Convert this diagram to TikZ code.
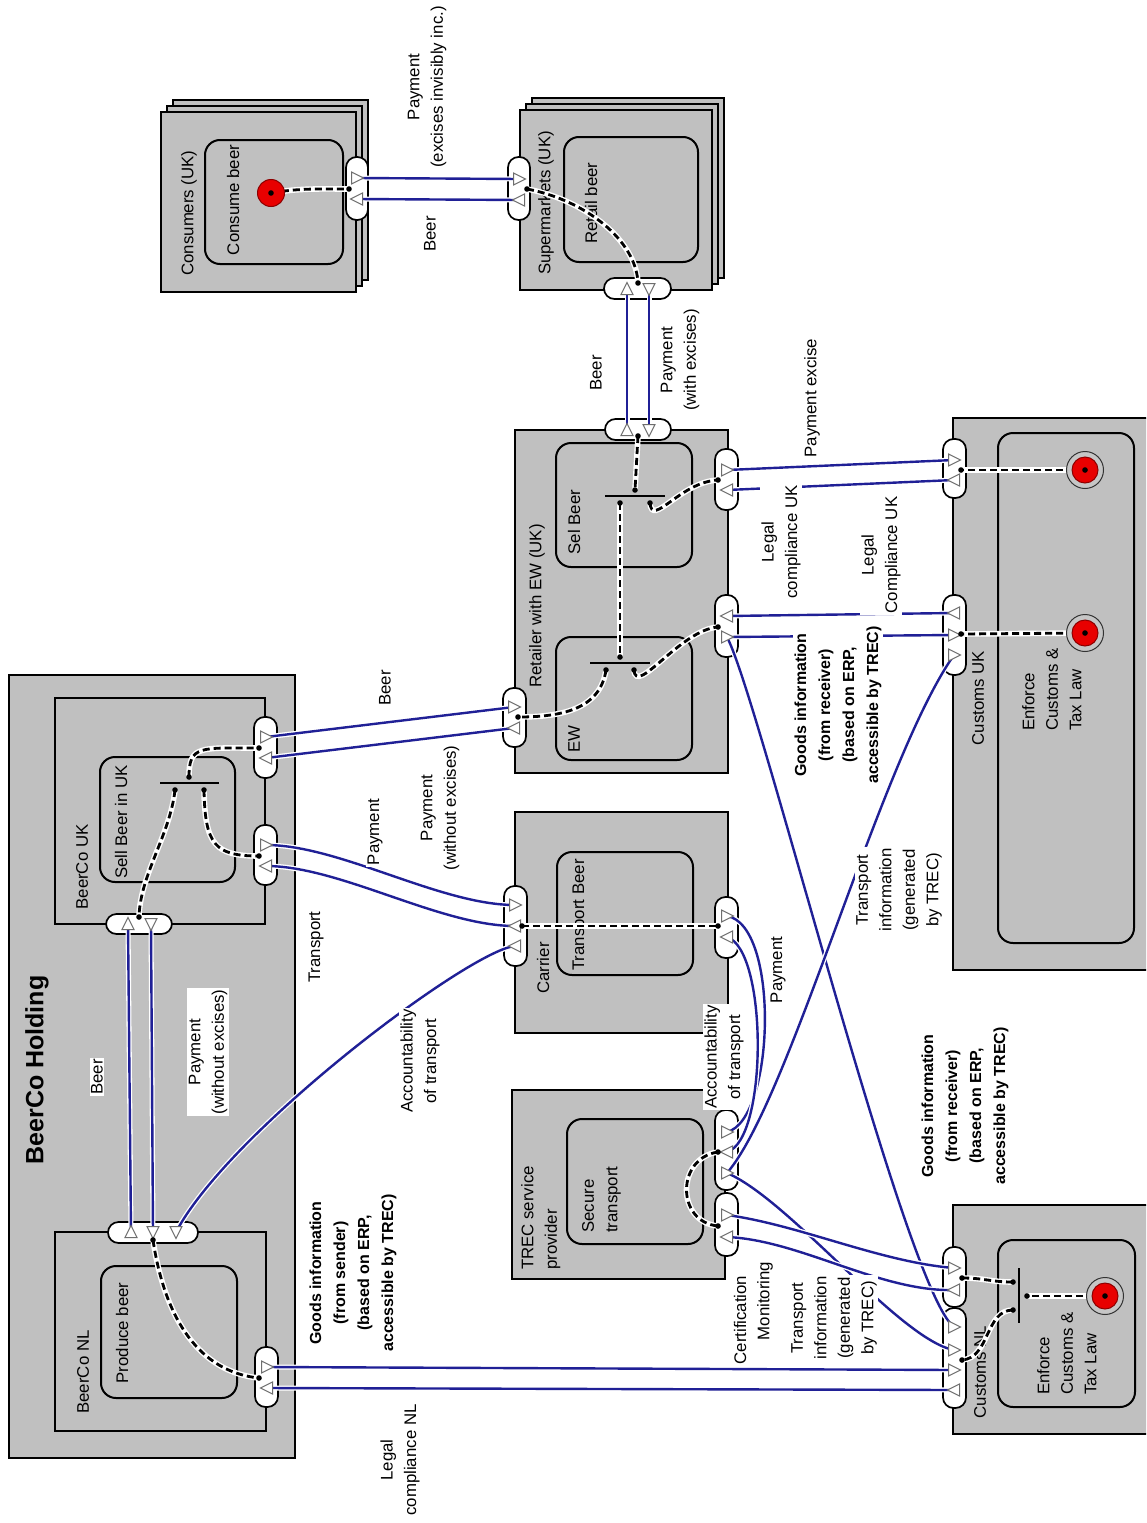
\documentclass[tikz,border=0pt]{standalone}
\usepackage{fontspec}
\setmainfont{Liberation Sans}
\definecolor{agray}{RGB}{192,192,192}
\definecolor{vblue}{RGB}{32,32,150}
\definecolor{pgray}{RGB}{110,110,110}
\definecolor{sred}{RGB}{232,0,0}
\newcommand\lfont{\fontsize{16.8}{23.5}\selectfont}
\newcommand\bfnt{\fontsize{16}{24}\selectfont\bfseries}
\newcommand\hfont{\fontsize{25}{30}\selectfont\bfseries}
\tikzset{
  actorbox/.style={draw=black, line width=2pt, fill=agray},
  actbox/.style={draw=black, line width=2pt, rounded corners=15pt},
  stadium/.style={draw=black, line width=1.7pt, fill=white, rounded corners=10.5pt},
  vt/.style={draw=vblue, line width=2.4pt, preaction={draw=white, line width=5pt}},
  dep/.style={draw=black, line width=2.8pt, dash pattern=on 7pt off 4pt, preaction={draw=white, line width=5.6pt, solid}},
  port/.style={draw=pgray, line width=1pt, fill=white},
  lab/.style={rotate=90, font=\lfont, inner sep=1.5pt, align=center},
  wlab/.style={lab, fill=white},
  blab/.style={lab, font=\bfnt, fill=white},
  gatebar/.style={draw=black, line width=1.4pt}
}
\newcommand\portR[1]{\draw[port,shift={(#1)}] (-5.5,-6)--(6.5,0)--(-5.5,6)--cycle;}
\newcommand\portL[1]{\draw[port,shift={(#1)}] (5.5,-6)--(-6.5,0)--(5.5,6)--cycle;}
\newcommand\portU[1]{\draw[port,shift={(#1)}] (-6,5.5)--(0,-6.5)--(6,5.5)--cycle;}
\newcommand\portD[1]{\draw[port,shift={(#1)}] (-6,-5.5)--(0,6.5)--(6,-5.5)--cycle;}
\newcommand\jdot[1]{\fill (#1) circle (2.8pt);}
\newcommand\stimA[1]{\filldraw[fill=sred, draw=red!55!black, line width=1pt] (#1) circle (13.5pt); \fill (#1) circle (2.8pt);}
\newcommand\stimB[1]{\filldraw[fill=gray!45, draw=gray!40!black, line width=1pt] (#1) circle (18.5pt); \filldraw[fill=sred, draw=red!55!black, line width=1pt] (#1) circle (13pt); \fill (#1) circle (2.8pt);}
\newcommand\stackbox[4]{\draw[actorbox] (#1+12,#2-12) rectangle (#3+12,#4-12); \draw[actorbox] (#1+6,#2-6) rectangle (#3+6,#4-6); \draw[actorbox] (#1,#2) rectangle (#3,#4);}
\newcommand\stad[4]{\draw[stadium] (#1,#2) rectangle (#3,#4);}
\begin{document}
\begin{tikzpicture}[x=1pt,y=-1pt]
\useasboundingbox (0,0) rectangle (1146,1523);
\clip (0,0) rectangle (1146,1523);
% ---------- actors ----------
\draw[actorbox] (9,675) rectangle (295,1458);
\draw[actorbox] (55,698) rectangle (265,924);
\draw[actorbox] (55,1232) rectangle (266,1431);
\stackbox{161}{112}{356}{292}
\stackbox{520}{110}{712}{290}
\draw[actorbox] (515,430) rectangle (728,773);
\draw[actorbox] (515,812) rectangle (728,1033);
\draw[actorbox] (512,1090) rectangle (725,1279);
\draw[actorbox] (953,418) rectangle (1160,970);
\draw[actorbox] (953,1205) rectangle (1160,1434);
% ---------- activities ----------
\draw[actbox] (100,757) rectangle (235,882);
\draw[actbox] (101,1266) rectangle (237,1398);
\draw[actbox] (205,140) rectangle (343,264);
\draw[actbox] (564,137) rectangle (698,262);
\draw[actbox] (556,443) rectangle (692,567);
\draw[actbox] (556,637) rectangle (692,760);
\draw[actbox] (557,852) rectangle (693,975);
\draw[actbox] (567,1119) rectangle (703,1244);
\draw[actbox] (998,433) rectangle (1134,943);
\draw[actbox] (998,1240) rectangle (1135,1407);
% ---------- actor / activity labels ----------
\node[lab] (tCons) at (189,213) {Consumers (UK)};
\node[lab] (tConsA) at (233,200) {Consume beer};
\node[lab] (tSup) at (546,203) {Supermarkets (UK)};
\node[lab] (tSupA) at (591,203) {Retail beer};
\node[lab] (tRet) at (537,606) {Retailer with EW (UK)};
\node[lab] (tSel) at (574,522) {Sel Beer};
\node[lab] (tEW) at (574,739) {EW};
\node[lab] (tCar) at (543,968) {Carrier};
\node[lab] (tCarA) at (580,915) {Transport Beer};
\node[lab, anchor=north west, align=left] (tTrec) at (519.5,1271.5) {TREC service\\provider};
\node[lab, anchor=north west, align=left] (tTrecA) at (580.5,1234.5) {Secure\\transport};
\node[lab] (tUK) at (82,867) {BeerCo UK};
\node[lab] (tUKA) at (121,822) {Sell Beer in UK};
\node[lab, font=\hfont] (tHold) at (37,1070) {BeerCo Holding};
\node[lab] (tNL) at (83,1372) {BeerCo NL};
\node[lab] (tNLA) at (122,1333) {Produce beer};
\node[lab] (tCUK) at (978,698) {Customs UK};
\node[lab, anchor=north west, align=left] (tCUKA) at (1020.5,732.5) {Enforce\\Customs \&\\Tax Law};
\node[lab] (tCNL) at (980,1372) {Customs NL};
\node[lab, anchor=north west, align=left] (tCNLA) at (1035.5,1396.5) {Enforce\\Customs \&\\Tax Law};
% ---------- value interfaces ----------
\stad{346}{157}{368}{220}
\stad{508}{157}{530}{220}
\stad{604}{278}{671}{299}
\stad{605}{419}{671}{440}
\stad{715}{449}{738}{510}
\stad{715}{595}{738}{657}
\stad{503}{688}{526}{747}
\stad{254}{717}{277}{778}
\stad{254}{825}{277}{885}
\stad{106}{914}{172}{934}
\stad{108}{1222}{198}{1243}
\stad{255}{1347}{278}{1407}
\stad{504}{886}{527}{966}
\stad{715}{897}{738}{958}
\stad{715}{1110}{738}{1190}
\stad{715}{1193}{738}{1256}
\stad{943}{439}{966}{498}
\stad{943}{595}{966}{675}
\stad{943}{1247}{966}{1307}
\stad{943}{1308}{966}{1408}
% ---------- port coordinates ----------
\coordinate (cSo) at (357,178); \coordinate (cSi) at (357,199); \coordinate (cSd) at (349,189);
\coordinate (stC) at (271,193);
\coordinate (sLi) at (519,179); \coordinate (sLo) at (519,200); \coordinate (sLd) at (527,189);
\coordinate (sBa) at (627,289); \coordinate (sBb) at (649,289); \coordinate (sBd) at (638,283);
\coordinate (rTa) at (627,430); \coordinate (rTb) at (649,430); \coordinate (rTd) at (638,436);
\coordinate (rR1o) at (727,470); \coordinate (rR1i) at (727,490); \coordinate (rR1d) at (718,480);
\coordinate (rR2i) at (727,616); \coordinate (rR2o) at (727,637); \coordinate (rR2d) at (718,627);
\coordinate (rLi) at (514,707); \coordinate (rLo) at (514,728); \coordinate (rLd) at (518,717);
\coordinate (selT) at (635,490); \coordinate (selA) at (620,503); \coordinate (selB) at (650,503);
\coordinate (ewT) at (620,657); \coordinate (ewA) at (606,670); \coordinate (ewB) at (634,670);
\coordinate (u1o) at (266,737); \coordinate (u1i) at (266,758); \coordinate (u1d) at (259,748);
\coordinate (u2o) at (266,845); \coordinate (u2i) at (266,866); \coordinate (u2d) at (259,856);
\coordinate (ubA) at (128,924); \coordinate (ubB) at (151,924); \coordinate (ubd) at (139,917);
\coordinate (ukT) at (189,777); \coordinate (ukA) at (175,790); \coordinate (ukB) at (204,790);
\coordinate (hA) at (131,1232); \coordinate (hB) at (153,1232); \coordinate (hC) at (176,1232); \coordinate (hd) at (153,1240);
\coordinate (nRo) at (267,1367); \coordinate (nRi) at (267,1388); \coordinate (nRd) at (259,1378);
\coordinate (cL1) at (515,905); \coordinate (cL2) at (515,926); \coordinate (cL3) at (515,946); \coordinate (cLd) at (522,926);
\coordinate (cR1) at (727,916); \coordinate (cR2) at (727,937); \coordinate (cRd) at (718,926);
\coordinate (t1a) at (727,1132); \coordinate (t1b) at (727,1152); \coordinate (t1c) at (727,1173); \coordinate (t1d) at (718,1152);
\coordinate (t2a) at (727,1215); \coordinate (t2b) at (727,1237); \coordinate (t2d) at (718,1226);
\coordinate (k1a) at (954,460); \coordinate (k1b) at (954,480); \coordinate (k1d) at (961,470);
\coordinate (k2a) at (954,613); \coordinate (k2b) at (954,635); \coordinate (k2c) at (954,655); \coordinate (k2d) at (961,634);
\coordinate (stU1) at (1085,470); \coordinate (stU2) at (1085,633);
\coordinate (n1a) at (954,1268); \coordinate (n1b) at (954,1290); \coordinate (n1d) at (962,1278);
\coordinate (n2a) at (954,1327); \coordinate (n2b) at (954,1350); \coordinate (n2c) at (954,1370); \coordinate (n2e) at (954,1390); \coordinate (n2d) at (962,1360);
\coordinate (stN) at (1105,1296); \coordinate (nlR) at (1027,1296); \coordinate (nlA) at (1013,1282); \coordinate (nlB) at (1013,1310);
% ---------- value transfers ----------
\draw[vt] (cSo) -- (sLi);
\draw[vt] (sLo) -- (cSi);
\draw[vt] (sBa) -- (rTa);
\draw[vt] (sBb) -- (rTb);
\draw[vt] (rR1o) -- (k1a);
\draw[vt] (k1b) -- (rR1i);
\draw[vt] (k2a) -- (rR2i);
\draw[vt] (rR2o) -- (k2b);
\draw[vt] (rR2o) .. controls (760,700) and (905,1290) .. (n2a);
\draw[vt] (t1c) .. controls (790,1100) and (880,760) .. (k2c);
\draw[vt] (t1c) .. controls (790,1200) and (900,1340) .. (n2b);
\draw[vt] (u1o) -- (rLi);
\draw[vt] (rLo) -- (u1i);
\draw[vt] (u2o) .. controls (340,845) and (440,905) .. (cL1);
\draw[vt] (cL2) .. controls (440,926) and (340,866) .. (u2i);
\draw[vt] (cL3) .. controls (470,950) and (230,1130) .. (hC);
\draw[vt] (hA) -- (ubA);
\draw[vt] (ubB) -- (hB);
\draw[vt] (nRo) -- (n2c);
\draw[vt] (n2e) -- (nRi);
\draw[vt] (cR1) .. controls (780,925) and (775,1120) .. (t1a);
\draw[vt] (t1b) .. controls (768,1140) and (768,950) .. (cR2);
\draw[vt] (t2a) .. controls (800,1225) and (880,1262) .. (n1a);
\draw[vt] (n1b) .. controls (880,1292) and (800,1240) .. (t2b);
% ---------- ports ----------
\portR{cSo} \portL{cSi}
\portR{sLi} \portL{sLo}
\portU{sBa} \portD{sBb}
\portU{rTa} \portD{rTb}
\portR{rR1o} \portL{rR1i}
\portL{rR2i} \portR{rR2o}
\portR{rLi} \portL{rLo}
\portR{u1o} \portL{u1i}
\portR{u2o} \portL{u2i}
\portU{ubA} \portD{ubB}
\portU{hA} \portD{hB} \portD{hC}
\portR{nRo} \portL{nRi}
\portR{cL1} \portL{cL2} \portL{cL3}
\portR{cR1} \portL{cR2}
\portR{t1a} \portL{t1b} \portR{t1c}
\portR{t2a} \portL{t2b}
\portR{k1a} \portL{k1b}
\portL{k2a} \portR{k2b} \portR{k2c}
\portR{n1a} \portL{n1b}
\portR{n2a} \portR{n2b} \portR{n2c} \portL{n2e}
% ---------- AND gates ----------
\draw[gatebar] (160,783) -- (219,783);
\draw[gatebar] (605,496) -- (665,496);
\draw[gatebar] (590,663) -- (650,663);
\draw[gatebar] (1019,1268) -- (1019,1323);
% ---------- dependency paths ----------
\draw[dep] (stC) .. controls (300,188) and (320,189) .. (cSd);
\draw[dep] (sLd) .. controls (585,200) and (636,240) .. (sBd);
\draw[dep] (rTd) -- (selT);
\draw[dep] (selA) -- (ewT);
\draw[dep] (selB) .. controls (652,528) and (680,482) .. (rR1d);
\draw[dep] (ewA) .. controls (600,710) and (560,717) .. (rLd);
\draw[dep] (ewB) .. controls (636,697) and (680,630) .. (rR2d);
\draw[dep] (ukT) .. controls (189,745) and (200,748) .. (u1d);
\draw[dep] (ukA) .. controls (170,835) and (140,875) .. (ubd);
\draw[dep] (ukB) .. controls (205,845) and (215,856) .. (u2d);
\draw[dep] (hd) .. controls (165,1320) and (200,1372) .. (nRd);
\draw[dep] (cLd) -- (cRd);
\draw[dep] (t1d) .. controls (676,1158) and (676,1222) .. (t2d);
\draw[dep] (stU1) -- (k1d);
\draw[dep] (stU2) -- (k2d);
\draw[dep] (stN) -- (nlR);
\draw[dep] (nlA) .. controls (990,1282) and (985,1278) .. (n1d);
\draw[dep] (nlB) .. controls (985,1310) and (990,1358) .. (n2d);
% ---------- dots and stimuli ----------
\foreach \p in {cSd,sLd,sBd,rTd,rR1d,rR2d,rLd,selT,selA,selB,ewT,ewA,ewB,u1d,u2d,ubd,ukT,ukA,ukB,hd,nRd,cLd,cRd,t1d,t2d,k1d,k2d,n1d,n2d,nlR,nlA,nlB}{\jdot{\p}}
\stimA{stC}
\stimB{stU1}
\stimB{stU2}
\stimB{stN}
% ---------- transfer labels ----------
\node[wlab] (l1) at (427,87) {Payment\\(excises invisibly inc.)};
\node[wlab] (l2) at (430,234) {Beer};
\node[wlab] (l3) at (596,373) {Beer};
\node[wlab] (l4) at (680,360) {Payment\\(with excises)};
\node[wlab] (l5) at (812,398) {Payment excise};
\node[wlab] (l6) at (781,542) {Legal\\compliance UK};
\node[wlab] (l7) at (881,555) {Legal\\Compliance UK};
\node[blab] (l8) at (838,705) {Goods information\\(from receiver)\\(based on ERP,\\accessible by TREC)};
\node[wlab] (l9) at (385,688) {Beer};
\node[wlab] (l10) at (440,808) {Payment\\(without excises)};
\node[wlab] (l11) at (375,832) {Payment};
\node[wlab] (l12) at (316,947) {Transport};
\node[wlab] (l13) at (420,1061) {Accountability\\of transport};
\node[wlab] (l14) at (97,1077) {Beer};
\node[wlab] (l15) at (208,1052) {Payment\\(without excises)};
\node[blab] (l16) at (353,1273) {Goods information\\(from sender)\\(based on ERP,\\accessible by TREC)};
\node[wlab] (l17) at (400,1460) {Legal\\compliance NL};
\node[wlab] (l18) at (778,970) {Payment};
\node[wlab] (l19) at (724,1057) {Accountability\\of transport};
\node[wlab] (l20) at (899,890) {Transport\\information\\(generated\\by TREC)};
\node[blab] (l21) at (965,1106) {Goods information\\(from receiver)\\(based on ERP,\\accessible by TREC)};
\node[wlab] (l22) at (740,1320) {Certification};
\node[wlab] (l23) at (765,1301) {Monitoring};
\node[wlab] (l24) at (834,1318) {Transport\\information\\(generated\\by TREC)};
\end{tikzpicture}
\end{document}
